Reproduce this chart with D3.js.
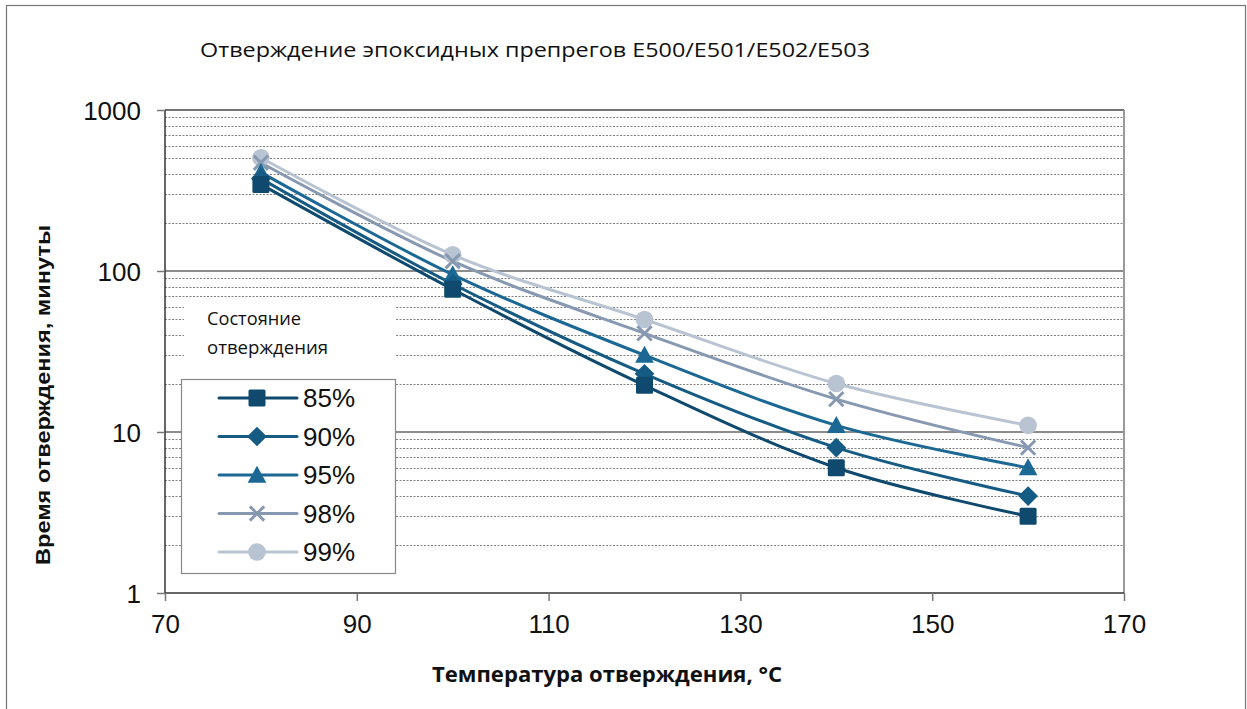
<!DOCTYPE html>
<html><head><meta charset="utf-8">
<script src="https://cdn.jsdelivr.net/npm/d3@7"></script>
<style>body{margin:0;background:#fff;} svg{display:block;}</style>
</head><body>
<svg id="c" width="1247" height="709"></svg>
<script>
const temps = [80, 100, 120, 140, 160];
const seriesNames = ["85%", "90%", "95%", "98%", "99%"];
const v85 = [345, 77, 19.5, 6, 3];
const v90 = [375, 83, 23, 8, 4];
const v95 = [410, 95, 30, 11, 6];
const v98 = [470, 115, 41, 16, 8];
const v99 = [505, 126, 50, 20, 11];
const seriesValues = [v85, v90, v95, v98, v99];
const xTicks = [70, 90, 110, 130, 150, 170];
const yTicks = [1, 10, 100, 1000];
const colors = ["#0f4a6e", "#165b84", "#1c6895", "#8799b1", "#b9c4d3"];
const markers = ["square", "diamond", "triangle", "cross", "circle"];

const svg = d3.select("#c");
const L = 165, R = 1124, T = 110, B = 593;
const x = d3.scaleLinear().domain([70, 170]).range([L, R]);
const y = d3.scaleLog().domain([1, 1000]).range([B, T]);

// outer frame
svg.append("rect").attr("x", 6.5).attr("y", 5.5).attr("width", 1239).attr("height", 720)
  .attr("fill", "none").attr("stroke", "#777").attr("stroke-width", 1.2);

// title
svg.append("text").attr("x", 200).attr("y", 57).attr("font-family", "Open Sans, sans-serif")
  .attr("font-size", 20).attr("textLength", 670).attr("lengthAdjust", "spacingAndGlyphs")
  .attr("fill", "#111").text("Отверждение эпоксидных препрегов E500/E501/E502/E503");

// minor gridlines
const minor = [];
for (let d = 1; d < 1000; d *= 10) for (let k = 2; k <= 9; k++) minor.push(d * k);
const g = svg.append("g");
g.selectAll(".mn").data(minor).join("line")
  .attr("x1", L).attr("x2", R).attr("y1", d => Math.round(y(d)) + 0.5).attr("y2", d => Math.round(y(d)) + 0.5)
  .attr("stroke", "#808080").attr("stroke-width", 1).attr("stroke-dasharray", "2,1.5");
g.selectAll(".mj").data([10, 100]).join("line")
  .attr("x1", L).attr("x2", R).attr("y1", d => y(d)).attr("y2", d => y(d))
  .attr("stroke", "#8c8c8c").attr("stroke-width", 2);
// top & right frame of plot
svg.append("line").attr("x1", L).attr("x2", R).attr("y1", T).attr("y2", T).attr("stroke", "#444").attr("stroke-width", 1.5);
svg.append("line").attr("x1", R).attr("x2", R).attr("y1", T).attr("y2", B).attr("stroke", "#999").attr("stroke-width", 2);

// legend title background (covers gridlines)
svg.append("rect").attr("x", 184).attr("y", 299).attr("width", 211).attr("height", 77).attr("fill", "#fff");
svg.append("text").attr("x", 207).attr("y", 325).attr("font-family", "Open Sans, sans-serif").attr("font-size", 18)
  .attr("textLength", 94).attr("lengthAdjust", "spacingAndGlyphs").attr("fill", "#111").text("Состояние");
svg.append("text").attr("x", 207).attr("y", 354).attr("font-family", "Open Sans, sans-serif").attr("font-size", 18)
  .attr("textLength", 121).attr("lengthAdjust", "spacingAndGlyphs").attr("fill", "#111").text("отверждения");

// axes
const yAxis = d3.axisLeft(y).tickValues(yTicks).tickFormat(d3.format("d")).tickSize(8).tickPadding(16);
const ya = svg.append("g").attr("transform", `translate(${L},0)`).call(yAxis);
const xAxis = d3.axisBottom(x).tickValues(xTicks).tickSize(8).tickPadding(14);
const xa = svg.append("g").attr("transform", `translate(0,${B})`).call(xAxis);
[ya, xa].forEach(a => {
  a.select(".domain").attr("stroke", "#333").attr("stroke-width", 1.5);
  a.selectAll(".tick line").attr("stroke", "#777").attr("stroke-width", 1.5);
  a.selectAll(".tick text").attr("font-family", "Liberation Sans, Arial, sans-serif").attr("font-size", 26).attr("fill", "#111");
});
ya.selectAll(".tick text").attr("dy", "0.35em");
ya.select(".domain").attr("d", `M0,${T}V${B}`);
xa.select(".domain").attr("d", `M${L},0H${R}`);

// axis titles
svg.append("text").attr("x", 607).attr("y", 682).attr("text-anchor", "middle")
  .attr("font-family", "Open Sans, sans-serif").attr("font-weight", "bold").attr("font-size", 21)
  .attr("textLength", 350).attr("lengthAdjust", "spacingAndGlyphs")
  .attr("fill", "#111").text("Температура отверждения, °C");
svg.append("text").attr("transform", "translate(50,395) rotate(-90)").attr("text-anchor", "middle")
  .attr("font-family", "Liberation Sans, Arial, sans-serif").attr("font-weight", "bold").attr("font-size", 21)
  .attr("textLength", 340).attr("lengthAdjust", "spacingAndGlyphs")
  .attr("fill", "#111").text("Время отверждения, минуты");

// markers
function drawMarker(sel, type, color, size) {
  if (type === "square") sel.append("rect").attr("x", -size/2).attr("y", -size/2).attr("width", size).attr("height", size).attr("rx", 1.5).attr("fill", color);
  else if (type === "diamond") { const s = size*0.58; sel.append("path").attr("d", `M0,${-s}L${s},0L0,${s}L${-s},0Z`).attr("fill", color); }
  else if (type === "triangle") sel.append("path").attr("d", `M0,${-size*0.55}L${size*0.55},${size*0.45}L${-size*0.55},${size*0.45}Z`).attr("fill", color);
  else if (type === "cross") { const s = size*0.42; sel.append("path").attr("d", `M${-s},${-s}L${s},${s}M${-s},${s}L${s},${-s}`).attr("stroke", color).attr("stroke-width", 3).attr("fill", "none"); }
  else if (type === "circle") sel.append("circle").attr("r", size*0.52).attr("fill", color);
}

const line = d3.line().x(d => x(d[0])).y(d => y(d[1])).curve(d3.curveCardinal.tension(0));
const order = [4, 3, 2, 1, 0];
order.forEach(i => {
  const pts = temps.map((t, j) => [t, seriesValues[i][j]]);
  svg.append("path").datum(pts).attr("d", line).attr("fill", "none").attr("stroke", colors[i]).attr("stroke-width", 3);
});
order.forEach(i => {
  const pts = temps.map((t, j) => [t, seriesValues[i][j]]);
  pts.forEach(p => {
    const m = svg.append("g").attr("transform", `translate(${x(p[0])},${y(p[1])})`);
    drawMarker(m, markers[i], colors[i], 17);
  });
});

// legend box
const lg = svg.append("g");
lg.append("rect").attr("x", 181.5).attr("y", 379.5).attr("width", 214).attr("height", 194)
  .attr("fill", "#fff").attr("stroke", "#888").attr("stroke-width", 1.2);
seriesNames.forEach((n, i) => {
  const cy = 398 + i * 38.5;
  lg.append("line").attr("x1", 219).attr("x2", 297).attr("y1", cy).attr("y2", cy).attr("stroke", colors[i]).attr("stroke-width", 3).attr("stroke-linecap", "round");
  const m = lg.append("g").attr("transform", `translate(257,${cy})`);
  drawMarker(m, markers[i], colors[i], 17);
  lg.append("text").attr("x", 303).attr("y", cy).attr("dy", "0.36em").attr("font-family", "Liberation Sans, Arial, sans-serif")
    .attr("font-size", 26).attr("fill", "#111").text(n);
});
</script>
</body></html>
